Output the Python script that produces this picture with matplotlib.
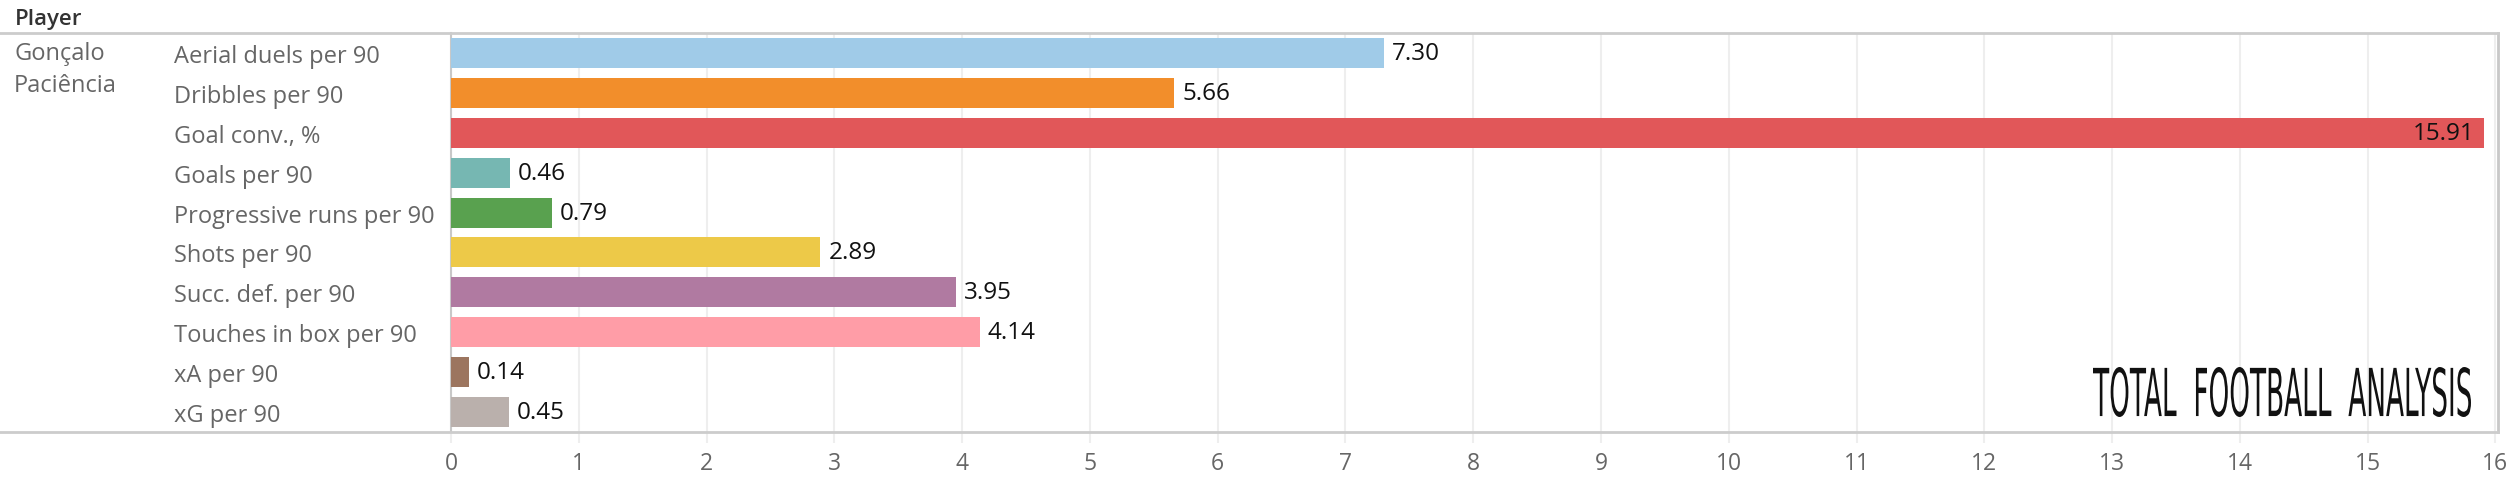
import matplotlib.pyplot as plt
import numpy as np
from matplotlib.lines import Line2D
from matplotlib.textpath import TextPath
from matplotlib.patches import PathPatch
from matplotlib.font_manager import FontProperties
from matplotlib.transforms import Affine2D

player = "Gonçalo\nPaciência"
metrics = ['Aerial duels per 90', 'Dribbles per 90', 'Goal conv., %', 'Goals per 90',
           'Progressive runs per 90', 'Shots per 90', 'Succ. def. per 90',
           'Touches in box per 90', 'xA per 90', 'xG per 90']
values = [7.30, 5.66, 15.91, 0.46, 0.79, 2.89, 3.95, 4.14, 0.14, 0.45]
colors = ['#a0cbe8', '#f28e2b', '#e15759', '#76b7b2', '#59a14f',
          '#edc948', '#b07aa1', '#ff9da7', '#9c755f', '#bab0ac']
xticks = list(range(0, 17))

plt.rcParams['font.family'] = ['Open Sans', 'DejaVu Sans']

W, H = 2509, 489
fig = plt.figure(figsize=(W / 100, H / 100), dpi=100)
ax = fig.add_axes([451 / W, (H - 433) / H, (2498 - 451) / W, (433 - 34) / H])

y = np.arange(len(metrics))
ax.barh(y, values, height=0.75, color=colors, zorder=3)
ax.set_xlim(0, 16.02)
ax.set_ylim(len(metrics) - 0.5, -0.5)

for yi, v in zip(y, values):
    if v > 15:
        ax.annotate(f'{v:.2f}', (v, yi), xytext=(-9, 0), textcoords='offset pixels',
                    ha='right', va='center', fontsize=17.5, color='#111111', zorder=4)
    else:
        ax.annotate(f'{v:.2f}', (v, yi), xytext=(8, 0), textcoords='offset pixels',
                    ha='left', va='center', fontsize=17.5, color='#111111', zorder=4)

ax.set_xticks(xticks)
ax.set_xticklabels([str(t) for t in xticks])
ax.grid(True, axis='x', color='#eeeeee', linewidth=1.5, zorder=0)
ax.tick_params(axis='x', length=8, width=1.5, color='#eeeeee', labelsize=16.5,
               labelcolor='#666666', pad=6)
ax.set_yticks(y)
ax.set_yticklabels(metrics, ha='left', fontsize=17, color='#666666')
ax.tick_params(axis='y', length=0, pad=(451 - 174) * 0.72)

for s in ['top', 'bottom']:
    ax.spines[s].set_visible(False)
ax.spines['left'].set_color('#c8c8c8')
ax.spines['left'].set_linewidth(1.5)
ax.spines['right'].set_color('#c8c8c8')
ax.spines['right'].set_linewidth(2)

# header lines spanning full width
for yy in [34, 433]:
    fig.add_artist(Line2D([0, 2498 / W], [(H - yy) / H] * 2, color='#cccccc', linewidth=2))

fig.text(15 / W, (H - 19) / H, 'Player', fontsize=16, color='#333333',
         fontweight='semibold', ha='left', va='center')
fig.text(14 / W, (H - 42) / H, player, fontsize=17, color='#666666',
         ha='left', va='top', linespacing=1.45)

# watermark logo, squeezed into its box
tp = TextPath((0, 0), 'TOTAL  FOOTBALL  ANALYSIS', size=40,
              prop=FontProperties(family='DejaVu Sans', weight='normal'))
bb = tp.get_extents()
x0, x1, y0, y1 = 2093, 2471, H - 418, H - 368
tr = Affine2D().translate(-bb.x0, -bb.y0).scale((x1 - x0) / bb.width, (y1 - y0) / bb.height).translate(x0, y0)
fig.add_artist(PathPatch(tr.transform_path(tp), facecolor='#111111', edgecolor='none',
                         transform=None))

fig.savefig('out.png', dpi=100)
